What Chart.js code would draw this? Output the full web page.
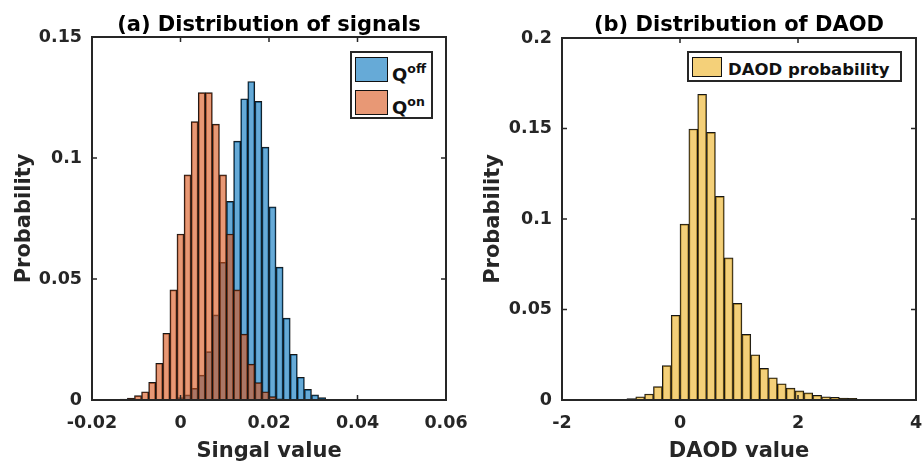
<!DOCTYPE html>
<html>
<head>
<meta charset="utf-8">
<script src="https://cdn.jsdelivr.net/npm/chart.js@4.4.1/dist/chart.umd.min.js"></script>
<style>
  body { margin: 0; background: #fff; }
  #wrap { position: relative; width: 922px; height: 465px; }
  .box { position: absolute; top: 0; height: 465px; }
  .legend { position: absolute; background: #fff; border: 2px solid #262626; box-sizing: border-box;
            font-family: "DejaVu Sans"; font-weight: bold; color: #111; }
  .item { display: flex; align-items: flex-end; height: 25px; margin-bottom: 8px; }
  .sw { border: 1px solid #111; box-sizing: border-box; flex: none; }
  .txt { line-height: 17px; }
  sup { font-size: 12.5px; line-height: 0; position: relative; top: -1px; }
</style>
</head>
<body>
<div id="wrap">
  <div class="box" style="left:0; width:480px"><canvas id="chartA"></canvas></div>
  <div class="box" style="left:461px; width:461px"><canvas id="chartB"></canvas></div>
  <div class="legend" id="legendA" style="left:350px; top:51px; width:83px; height:68px; padding:4px 0 0 3px"></div>
  <div class="legend" id="legendB" style="left:687px; top:51px; width:215px; height:31px; padding:4px 0 0 3px"></div>
</div>
<script>
// (a) signal histograms, bin centres (bin width 0.0016)
const binsA = [-0.0176, -0.016, -0.0144, -0.0128, -0.0112, -0.0096, -0.008, -0.0064, -0.0048, -0.0032, -0.0016,
    0, 0.0016, 0.0032, 0.0048, 0.0064, 0.008, 0.0096, 0.0112, 0.0128, 0.0144, 0.016, 0.0176, 0.0192, 0.0208,
    0.0224, 0.024, 0.0256, 0.0272, 0.0288, 0.0304, 0.032, 0.0336];
const qOff = [null, null, null, null, null, null, null, null, null, 0.0001, 0.0003,
    0.001, 0.0021, 0.0048, 0.0103, 0.020, 0.0352, 0.0569, 0.0821, 0.107, 0.1245, 0.1316, 0.1234, 0.1045, 0.0798,
    0.0549, 0.0338, 0.0189, 0.0094, 0.0044, 0.0021, 0.001, 0.0003];
const qOn = [0.0001, 0.0001, 0.0002, 0.0004, 0.0008, 0.0018, 0.0034, 0.0073, 0.0152, 0.0276, 0.0455,
    0.0686, 0.093, 0.115, 0.127, 0.127, 0.114, 0.093, 0.0686, 0.0455, 0.0272, 0.0148, 0.0072, 0.0034, 0.0014,
    0.0005, 0.0002, 0.0001, null, null, null, null, null];
const xTicksA = [-0.02, 0, 0.02, 0.04, 0.06];
const xTickLabelsA = ["-0.02", "0", "0.02", "0.04", "0.06"];
const yTicksA = [0, 0.05, 0.1, 0.15];
const yTickLabelsA = ["0", "0.05", "0.1", "0.15"];

// (b) DAOD histogram, bin centres (bin width 0.15)
const binsB = [-1.425, -1.275, -1.125, -0.975, -0.825, -0.675, -0.525, -0.375, -0.225, -0.075,
    0.075, 0.225, 0.375, 0.525, 0.675, 0.825, 0.975, 1.125, 1.275, 1.425,
    1.575, 1.725, 1.875, 2.025, 2.175, 2.325, 2.475, 2.625, 2.775, 2.925];
const daod = [0.0001, 0.0001, 0.0002, 0.0003, 0.0008, 0.0018, 0.0033, 0.0074, 0.019, 0.0468,
    0.0972, 0.1497, 0.1689, 0.1479, 0.1125, 0.0785, 0.0534, 0.0363, 0.025, 0.0175,
    0.0123, 0.009, 0.0066, 0.005, 0.0039, 0.0026, 0.0018, 0.0015, 0.0011, 0.0009];
const xTicksB = [-2, 0, 2, 4];
const xTickLabelsB = ["-2", "0", "2", "4"];
const yTicksB = [0, 0.05, 0.1, 0.15, 0.2];
const yTickLabelsB = ["0", "0.05", "0.1", "0.15", "0.2"];

const FONT = "DejaVu Sans";
const tickFont = { family: FONT, size: 17.5, weight: "bold" };
const labelFont = { family: FONT, size: 21, weight: "bold", lineHeight: 1 };

// box round the axes with inward ticks, like matlab
const frame = {
    id: "frame",
    afterDatasetsDraw(chart) {
        const { ctx, chartArea: a, scales: { x, y } } = chart;
        ctx.save();
        ctx.strokeStyle = "#262626";
        ctx.lineWidth = 1.5;
        ctx.beginPath();
        x.ticks.forEach(t => {
            const px = x.getPixelForValue(t.value);
            ctx.moveTo(px, a.bottom); ctx.lineTo(px, a.bottom - 5);
            ctx.moveTo(px, a.top); ctx.lineTo(px, a.top + 5);
        });
        y.ticks.forEach(t => {
            const py = y.getPixelForValue(t.value);
            ctx.moveTo(a.left, py); ctx.lineTo(a.left + 5, py);
            ctx.moveTo(a.right, py); ctx.lineTo(a.right - 5, py);
        });
        ctx.stroke();
        ctx.lineWidth = 2;
        ctx.strokeRect(a.left, a.top, a.right - a.left, a.bottom - a.top);
        ctx.restore();
    }
};

function histo(label, bins, values, color, order) {
    return {
        label: label,
        data: bins.map((b, i) => ({ x: b, y: values[i] })),
        backgroundColor: color,
        borderColor: "#151515",
        borderWidth: 1,
        order: order,
    };
}

function options(c) {
    return {
        responsive: true,
        maintainAspectRatio: false,
        animation: false,
        layout: { padding: { left: 0, right: c.padRight, top: 0, bottom: 0 } },
        datasets: { bar: { grouped: false, barPercentage: 1, categoryPercentage: 1 } },
        plugins: {
            legend: { display: false },
            tooltip: { enabled: false },
            title: {
                display: true, text: c.title, fullSize: false, color: "#000",
                font: labelFont, padding: { top: 15, bottom: c.titleBottom },
            },
        },
        scales: {
            x: {
                type: "linear", min: c.xTicks[0], max: c.xTicks[c.xTicks.length - 1], offset: false,
                grid: { display: false, drawTicks: false }, border: { display: false },
                afterBuildTicks: s => { s.ticks = c.xTicks.map(v => ({ value: v })); },
                afterFit: s => { s.height = 65; s.paddingLeft = 0; s.paddingRight = 0; },
                ticks: { padding: 13, color: "#262626", font: tickFont, maxRotation: 0, autoSkip: false,
                    callback: (v, i) => c.xLabels[i] },
                title: { display: true, text: c.xTitle, color: "#262626", font: labelFont, padding: { top: 0, bottom: 3 } },
            },
            y: {
                type: "linear", min: 0, max: c.yTicks[c.yTicks.length - 1],
                grid: { display: false, drawTicks: false }, border: { display: false },
                afterBuildTicks: s => { s.ticks = c.yTicks.map(v => ({ value: v })); },
                afterFit: s => { s.width = c.yWidth; },
                ticks: { padding: 10, color: "#262626", font: tickFont, autoSkip: false,
                    callback: (v, i) => c.yLabels[i] },
                title: { display: true, text: "Probability", color: "#262626", font: labelFont, padding: { top: c.yTitlePad, bottom: 0 } },
            },
        },
    };
}

const chartA = new Chart(document.getElementById("chartA"), {
    type: "bar",
    data: {
        datasets: [
            histo("Q<sup>off</sup>", binsA, qOff, "rgba(0, 114, 189, 0.6)", 2),
            histo("Q<sup>on</sup>", binsA, qOn, "rgba(217, 83, 25, 0.6)", 1),
        ],
    },
    options: options({
        title: "(a) Distribution of signals", xTitle: "Singal value",
        xTicks: xTicksA, xLabels: xTickLabelsA, yTicks: yTicksA, yLabels: yTickLabelsA,
        padRight: 34, titleBottom: 1, yWidth: 92, yTitlePad: 14,
    }),
    plugins: [frame],
});

const chartB = new Chart(document.getElementById("chartB"), {
    type: "bar",
    data: {
        datasets: [histo("DAOD probability", binsB, daod, "rgba(237, 177, 32, 0.6)", 1)],
    },
    options: options({
        title: "(b) Distribution of DAOD", xTitle: "DAOD value",
        xTicks: xTicksB, xLabels: xTickLabelsB, yTicks: yTicksB, yLabels: yTickLabelsB,
        padRight: 6, titleBottom: 2, yWidth: 101, yTitlePad: 22,
    }),
    plugins: [frame],
});

// legends as html so the superscripts stay real text
function legend(chart, el, sw) {
    el.innerHTML = chart.data.datasets.map(d =>
        '<div class="item" style="height:' + sw[1] + 'px">' +
        '<div class="sw" style="width:' + sw[0] + 'px;height:' + sw[1] + 'px;background:' + d.backgroundColor + '"></div>' +
        '<span class="txt" style="font-size:' + sw[2] + 'px;margin-left:' + sw[3] + 'px;margin-bottom:' + sw[4] + 'px">' + d.label + '</span></div>'
    ).join("");
}
legend(chartA, document.getElementById("legendA"), [33, 25, 18, 4, -1]);
legend(chartB, document.getElementById("legendB"), [30, 20, 16.5, 6, -1]);
</script>
</body>
</html>
